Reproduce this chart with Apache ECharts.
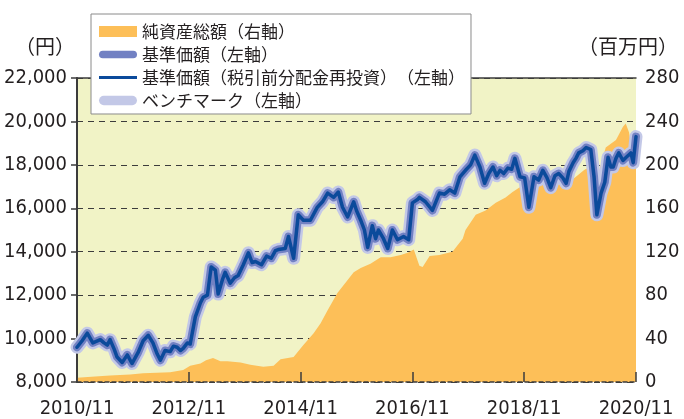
<!DOCTYPE html>
<html>
<head>
<meta charset="utf-8">
<script src="https://cdn.jsdelivr.net/npm/echarts@6/dist/echarts.min.js"></script>
<style>
  html, body {margin: 0; padding: 0; background: #fff;}
  #chart {width: 684px; height: 419px;}
</style>
</head>
<body>
<div id="chart"></div>
<script>
// months since 2010/11
const xTickLabels = ['2010/11', '2012/11', '2014/11', '2016/11', '2018/11', '2020/11'];

const navMonths = [0, 1.1, 2.2, 3.4, 5.0, 5.8, 6.5, 7.1, 8.0, 8.6, 9.7, 10.8, 11.8, 13.1, 14.2, 15.3, 16.3, 17.2, 17.9, 18.9,
  20.0, 20.7, 21.5, 22.2, 22.8, 23.7, 24.3, 25.4, 26.5, 27.1, 28.0, 28.8, 29.7, 30.3, 31.2, 31.8, 32.9, 33.8, 34.6, 35.7,
  36.8, 37.6, 38.3, 39.6, 40.7, 41.7, 42.6, 43.2, 44.7, 45.4, 46.5, 47.5, 48.6, 50.1, 51.6, 52.7, 53.8, 55.1, 56.1, 57.0,
  58.1, 59.4, 60.0, 60.9, 61.7, 62.4, 63.4, 64.1, 64.7, 65.8, 66.7, 67.7, 68.8, 70.1, 71.2, 72.0, 73.1, 73.5, 74.8, 76.3,
  77.8, 78.9, 80.0, 81.1, 82.2, 83.4, 84.5, 85.4, 86.5, 87.5, 88.4, 89.3, 90.1, 90.8, 91.6, 92.5, 93.3, 94.0, 95.1, 96.1,
  97.0, 98.1, 99.1, 100.0, 100.9, 101.7, 102.6, 103.4, 104.3, 105.0, 105.6, 106.5, 107.1, 107.7, 108.6, 109.3, 110.3, 111.0, 111.6, 112.5,
  113.3, 114.0, 114.6, 115.1, 115.7, 116.3, 117.2, 117.9, 118.9, 119.4, 120.0];
const navValues = [9600, 9900, 10250, 9800, 9950, 9800, 9700, 9950, 9500, 9150, 8900, 9250, 8850, 9350, 9900, 10150, 9800, 9300, 9000, 9450,
  9400, 9650, 9600, 9450, 9550, 9800, 9750, 11000, 11650, 11900, 12000, 13300, 13150, 12050, 12700, 13050, 12550, 12800, 12900, 13400,
  13950, 13500, 13550, 13400, 13800, 13700, 14050, 14100, 14150, 14700, 13700, 15700, 15450, 15450, 16050, 16300, 16700, 16500, 16750, 16050,
  15600, 16300, 15900, 15450, 15000, 14200, 15200, 14600, 15000, 14600, 14150, 15000, 14550, 14700, 14550, 16250, 16400, 16500, 16300, 15900,
  16700, 16650, 16850, 16700, 17450, 17750, 18000, 18450, 17900, 17150, 17600, 17900, 17500, 17750, 17600, 17850, 17800, 18300, 17450, 17400,
  16050, 17450, 17300, 17750, 17400, 16950, 17500, 17600, 17400, 17150, 17700, 18100, 18300, 18550, 18650, 18800, 18700, 17450, 15700, 16700,
  17200, 18350, 17900, 17900, 18300, 18550, 18200, 18350, 18550, 18100, 19300];
// no distributions paid, benchmark tracks the fund closely
const reinvestValues = navValues;
const benchValues = navValues;

const assetMonths = [0, 3.9, 7.1, 11.4, 14.2, 20, 22.8, 24.3, 26.5, 27.7, 29.2, 30.8, 32.3, 35.1, 37.2, 40, 42.2, 43.7, 46.5, 48.6,
  50.8, 52.3, 53.8, 55.9, 58.1, 59.4, 60.9, 63, 65.2, 67.3, 69.5, 71, 72.3, 73.5, 74.2, 75.7, 77.8, 80.6, 82.8, 83.4,
  85.6, 87.7, 89.9, 92, 93.5, 95.3, 96.3, 98.9, 101.7, 105.4, 108.8, 110.8, 111.8, 113.5, 115.7, 117.2, 117.8, 118.5, 119.4, 120];
const assetValues = [4, 5, 6, 7, 8, 9, 11, 15, 17, 20, 22, 19, 19, 18, 16, 14, 15, 21, 23, 34,
  45, 54, 66, 82, 94, 101, 105, 109, 115, 115, 117, 119, 122, 107, 106, 116, 117, 120, 132, 140,
  154, 158, 165, 170, 175, 180, 176, 184, 181, 183, 195, 200, 190, 216, 223, 235, 238, 230, 205, 200];

const names = ['純資産総額（右軸）', '基準価額（左軸）', '基準価額（税引前分配金再投資）　（左軸）', 'ベンチマーク（左軸）'];
const leftUnit = '（円）';
const rightUnit = '（百万円）';

const pairs = (xs, ys) => xs.map((x, i) => [x, ys[i]]);

const labelFont = "'DejaVu Sans Condensed', 'DejaVu Sans', sans-serif";
const jpFont = "'Noto Sans CJK JP', sans-serif";
const ink = '#231f20';

const chart = echarts.init(document.getElementById('chart'), null, {renderer: 'canvas'});

const option = {
  backgroundColor: '#fff',
  animation: false,
  grid: {
    left: 77,
    right: 48,
    top: 78,
    bottom: 37,
    show: true,
    backgroundColor: '#f1f3c6',
    borderWidth: 0,
  },
  graphic: [
    {
      type: 'text',
      left: 15,
      top: 36,
      style: {text: leftUnit, fontFamily: jpFont, fontSize: 20, fill: ink},
    },
    {
      type: 'text',
      left: 578,
      top: 36,
      style: {text: rightUnit, fontFamily: jpFont, fontSize: 20, fill: ink},
    },
  ],
  legend: {
    left: 91,
    top: 14,
    orient: 'vertical',
    backgroundColor: '#fff',
    borderColor: '#8a8a8a',
    borderWidth: 1,
    padding: [9, 6, 5, 8],
    itemGap: 6,
    itemWidth: 38,
    itemHeight: 11,
    textStyle: {fontFamily: jpFont, fontSize: 17, color: ink, lineHeight: 16},
    data: [
      {name: names[0], icon: 'rect'},
      {name: names[1], icon: 'path://M4,0H36A4,4,0,0,1,36,8H4A4,4,0,0,1,4,0Z'},
      {name: names[2], icon: 'path://M0,0H40V3H0Z'},
      {name: names[3], icon: 'path://M5,0H35A5,5,0,0,1,35,10H5A5,5,0,0,1,5,0Z'},
    ],
  },
  xAxis: [
    {
      type: 'value',
      min: 0,
      max: 120,
      interval: 24,
      z: 3,
      axisLine: {show: true, lineStyle: {color: '#3c3c3c', width: 1.5, type: [4, 3]}},
      axisTick: {show: true, inside: true, length: 10, lineStyle: {color: '#3c3c3c', width: 1.5}},
      axisLabel: {
        margin: 17,
        color: ink,
        fontFamily: labelFont,
        fontSize: 20,
        showMinLabel: true,
        showMaxLabel: true,
        formatter: (v) => xTickLabels[Math.round(v / 24)] || '',
      },
      splitLine: {show: false},
    },
    {
      type: 'value',
      position: 'top',
      min: 0,
      max: 120,
      z: 3,
      axisLine: {show: true, lineStyle: {color: '#3c3c3c', width: 1.5}},
      axisTick: {show: false},
      axisLabel: {show: false},
      splitLine: {show: false},
    },
  ],
  yAxis: [
    {
      type: 'value',
      min: 8000,
      max: 22000,
      interval: 2000,
      axisLine: {show: true, lineStyle: {color: '#3c3c3c', width: 2}},
      axisTick: {show: false},
      axisLabel: {
        margin: 10,
        color: ink,
        fontFamily: labelFont,
        fontSize: 20,
        formatter: (v) => v.toLocaleString('en-US'),
      },
      splitLine: {show: true, lineStyle: {color: '#3c3c3c', width: 1, type: [6, 5]}},
    },
    {
      type: 'value',
      position: 'right',
      min: 0,
      max: 280,
      interval: 40,
      z: 3,
      axisLine: {show: true, lineStyle: {color: '#3c3c3c', width: 1.5}},
      axisTick: {show: true, inside: true, length: 6, lineStyle: {color: '#3c3c3c', width: 1.5}},
      axisLabel: {margin: 9, color: ink, fontFamily: labelFont, fontSize: 20},
      splitLine: {show: false},
    },
  ],
  series: [
    {
      name: names[0],
      type: 'line',
      yAxisIndex: 1,
      data: pairs(assetMonths, assetValues),
      symbol: 'none',
      itemStyle: {color: '#fdbf58'},
      lineStyle: {width: 0, color: '#fdbf58'},
      areaStyle: {color: '#fdbf58', opacity: 1},
    },
    {
      name: names[3],
      type: 'line',
      data: pairs(navMonths, benchValues),
      symbol: 'none',
      itemStyle: {color: '#c3c8e7'},
      lineStyle: {width: 13, color: '#c3c8e7', cap: 'round', join: 'round'},
    },
    {
      name: names[1],
      type: 'line',
      data: pairs(navMonths, navValues),
      symbol: 'none',
      itemStyle: {color: '#7281c3'},
      lineStyle: {width: 8, color: '#7281c3', cap: 'round', join: 'round'},
    },
    {
      name: names[2],
      type: 'line',
      data: pairs(navMonths, reinvestValues),
      symbol: 'none',
      itemStyle: {color: '#0b4a9b'},
      lineStyle: {width: 3.5, color: '#0b4a9b', cap: 'round', join: 'round'},
    },
  ],
};

chart.setOption(option);
</script>
</body>
</html>
